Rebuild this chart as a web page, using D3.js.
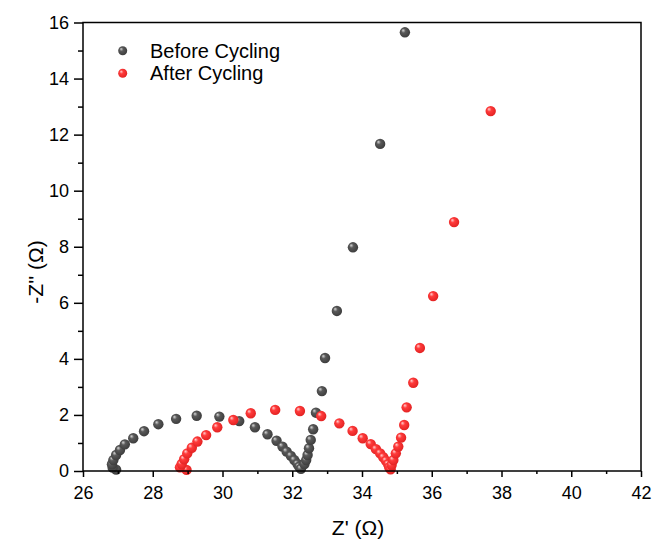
<!DOCTYPE html>
<html><head><meta charset="utf-8">
<script src="https://cdn.jsdelivr.net/npm/d3@7/dist/d3.min.js"></script>
<style>body{margin:0;background:#fff;}svg{display:block;font-family:"Liberation Sans",Arial,sans-serif;}</style>
</head><body>
<svg id="chart" width="653" height="542"></svg>
<script>
const seriesNames = ["Before Cycling", "After Cycling"];
const beforeX = [26.95,26.85,26.83,26.87,26.95,27.06,27.20,27.44,27.75,28.16,28.67,29.26,29.91,30.48,30.93,31.29,31.55,31.72,31.84,31.96,32.06,32.15,32.20,32.25,32.35,32.40,32.44,32.48,32.53,32.60,32.68,32.85,32.94,33.28,33.74,34.52,35.23];
const beforeY = [0.05,0.12,0.24,0.39,0.57,0.75,0.95,1.17,1.42,1.67,1.86,1.97,1.94,1.78,1.56,1.31,1.08,0.87,0.69,0.54,0.39,0.25,0.15,0.08,0.25,0.39,0.57,0.81,1.11,1.49,2.08,2.85,4.03,5.71,7.98,11.67,15.65];
const afterX = [28.97,28.78,28.83,28.90,28.99,29.12,29.28,29.53,29.85,30.31,30.81,31.51,32.22,32.83,33.35,33.73,34.02,34.25,34.40,34.52,34.61,34.69,34.75,34.78,34.82,34.85,34.90,34.97,35.04,35.12,35.21,35.28,35.47,35.66,36.04,36.64,37.69];
const afterY = [0.04,0.13,0.25,0.42,0.63,0.83,1.05,1.28,1.56,1.82,2.06,2.18,2.14,1.96,1.70,1.43,1.17,0.96,0.78,0.63,0.49,0.36,0.24,0.13,0.06,0.21,0.39,0.63,0.87,1.19,1.64,2.27,3.15,4.39,6.24,8.88,12.84];
const xTicks = [26,28,30,32,34,36,38,40,42];
const yTicks = [0,2,4,6,8,10,12,14,16];
const xTitle = "Z' (Ω)";
const yTitle = "-Z'' (Ω)";

const svg = d3.select("#chart");
const L = 83, R = 641, T = 22.5, B = 471;
const x = d3.scaleLinear().domain([26,42]).range([L,R]);
const y = d3.scaleLinear().domain([0,16]).range([B,T]);

const defs = svg.append("defs");
function grad(id, light, mid, dark){
  const g = defs.append("radialGradient").attr("id",id).attr("cx","45%").attr("cy","45%").attr("r","60%").attr("fx","32%").attr("fy","30%");
  g.append("stop").attr("offset","0%").attr("stop-color",light);
  g.append("stop").attr("offset","35%").attr("stop-color",mid);
  g.append("stop").attr("offset","100%").attr("stop-color",dark);
}
grad("gGray","#d8d8d8","#595959","#3a3a3a");
grad("gRed","#ffd0d0","#ff3b3b","#e02020");

const before = beforeX.map((v,i)=>({x:v,y:beforeY[i]}));
const after = afterX.map((v,i)=>({x:v,y:afterY[i]}));

svg.append("g").selectAll("circle").data(before).join("circle")
  .attr("cx",d=>x(d.x)).attr("cy",d=>y(d.y)).attr("r",5.2).attr("fill","url(#gGray)");
svg.append("g").selectAll("circle").data(after).join("circle")
  .attr("cx",d=>x(d.x)).attr("cy",d=>y(d.y)).attr("r",5.2).attr("fill","url(#gRed)");

// axes
const xAxis = d3.axisBottom(x).tickValues(xTicks).tickSize(6).tickPadding(9).tickFormat(d3.format("d"));
const xMinor = d3.axisBottom(x).tickValues(d3.range(27,42,2)).tickSize(3).tickFormat("");
const yAxis = d3.axisLeft(y).tickValues(yTicks).tickSize(9).tickPadding(5).tickFormat(d3.format("d"));
const yMinor = d3.axisLeft(y).tickValues(d3.range(1,16,2)).tickSize(5).tickFormat("");

function style(g){
  g.select(".domain").remove();
  g.selectAll("line").attr("stroke","#000").attr("stroke-width",1.5);
  g.selectAll("text").attr("font-size",18).attr("fill","#000").attr("font-family","'Liberation Sans',Arial,sans-serif");
}
svg.append("g").attr("transform",`translate(0,${B})`).call(xAxis).call(style);
svg.append("g").attr("transform",`translate(0,${B})`).call(xMinor).call(style);
svg.append("g").attr("transform",`translate(${L},0)`).call(yAxis).call(style);
svg.append("g").attr("transform",`translate(${L},0)`).call(yMinor).call(style);

svg.append("rect").attr("x",L).attr("y",T).attr("width",R-L).attr("height",B-T)
  .attr("fill","none").attr("stroke","#000").attr("stroke-width",1.5);

svg.append("text").attr("x",358).attr("y",535).attr("text-anchor","middle")
  .attr("font-size",21).text(xTitle);
svg.append("text").attr("transform","translate(43,272) rotate(-90)").attr("text-anchor","middle")
  .attr("font-size",21).text(yTitle);

// legend
const leg = svg.append("g");
[["url(#gGray)",50.7],["url(#gRed)",73.3]].forEach((p,i)=>{
  leg.append("circle").attr("cx",122.7).attr("cy",p[1]).attr("r",4.5).attr("fill",p[0]);
  leg.append("text").attr("x",150).attr("y",p[1]+7).attr("font-size",20).attr("fill","#000").text(seriesNames[i]);
});
</script>
</body></html>
